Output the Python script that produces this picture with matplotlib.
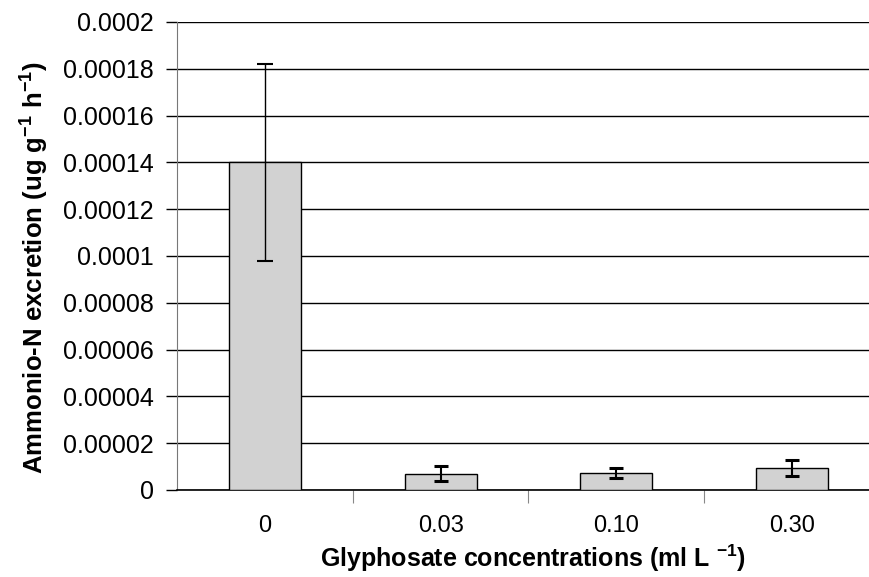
import numpy as np
import matplotlib
matplotlib.use("Agg")
import matplotlib.pyplot as plt
from matplotlib.ticker import FixedLocator

plt.rcParams['font.family'] = ['Liberation Sans', 'DejaVu Sans']
plt.rcParams['mathtext.fontset'] = 'custom'
plt.rcParams['mathtext.rm'] = 'Liberation Sans:bold'
plt.rcParams['mathtext.default'] = 'rm'

# data
categories = ["0", "0.03", "0.10", "0.30"]
excretion = [0.000140, 0.0000069, 0.0000073, 0.0000095]
err = [0.000042, 0.0000032, 0.0000020, 0.0000034]
ytick_vals = [0, 0.00002, 0.00004, 0.00006, 0.00008, 0.0001,
              0.00012, 0.00014, 0.00016, 0.00018, 0.0002]
ytick_labels = ["0", "0.00002", "0.00004", "0.00006", "0.00008", "0.0001",
                "0.00012", "0.00014", "0.00016", "0.00018", "0.0002"]

fig = plt.figure(figsize=(8.69, 5.77), dpi=100)
ax = fig.add_axes([0.204, 0.1508, 0.796, 0.8111])

x = np.arange(len(categories))
ax.bar(x, excretion, width=0.41, color="#d2d2d2", edgecolor="black",
       linewidth=1, zorder=3)
ax.errorbar(x[:1], excretion[:1], yerr=err[:1], fmt="none", ecolor="black",
            elinewidth=1, capsize=6, capthick=1.5, zorder=4)
ax.errorbar(x[1:], excretion[1:], yerr=err[1:], fmt="none", ecolor="black",
            elinewidth=1.5, capsize=5, capthick=2.2, zorder=4)

ax.set_xlim(-0.5, 3.44)
ax.set_ylim(0, 0.0002)
ax.set_yticks(ytick_vals)
ax.set_yticklabels(ytick_labels, fontsize=18)
ax.yaxis.grid(True, color="black", linewidth=1, zorder=0)
ax.tick_params(axis="y", direction="out", length=8, width=1, pad=9)

ax.set_xticks(x)
ax.set_xticklabels(categories, fontsize=17)
ax.tick_params(axis="x", which="major", length=0, pad=18)
ax.xaxis.set_minor_locator(FixedLocator([0.5, 1.5, 2.5]))
ax.tick_params(axis="x", which="minor", direction="out", length=9,
               width=0.8, color="#888888")

for s in ["top", "right"]:
    ax.spines[s].set_visible(False)
ax.spines["left"].set_color("#777777")
ax.spines["left"].set_linestyle((0, (2, 1)))
ax.spines["bottom"].set_linewidth(1.2)

ax.set_ylabel(r"Ammonio-N excretion (ug g$^{-1}$ h$^{-1}$)", fontsize=18.5,
              fontweight="bold")
ax.yaxis.set_label_coords(-0.183, 0.476)
ax.set_xlabel(r"Glyphosate concentrations (ml L $^{-1}$)", fontsize=18,
              fontweight="bold")
ax.xaxis.set_label_coords(0.514, -0.112)

fig.savefig("out.png", dpi=100)
